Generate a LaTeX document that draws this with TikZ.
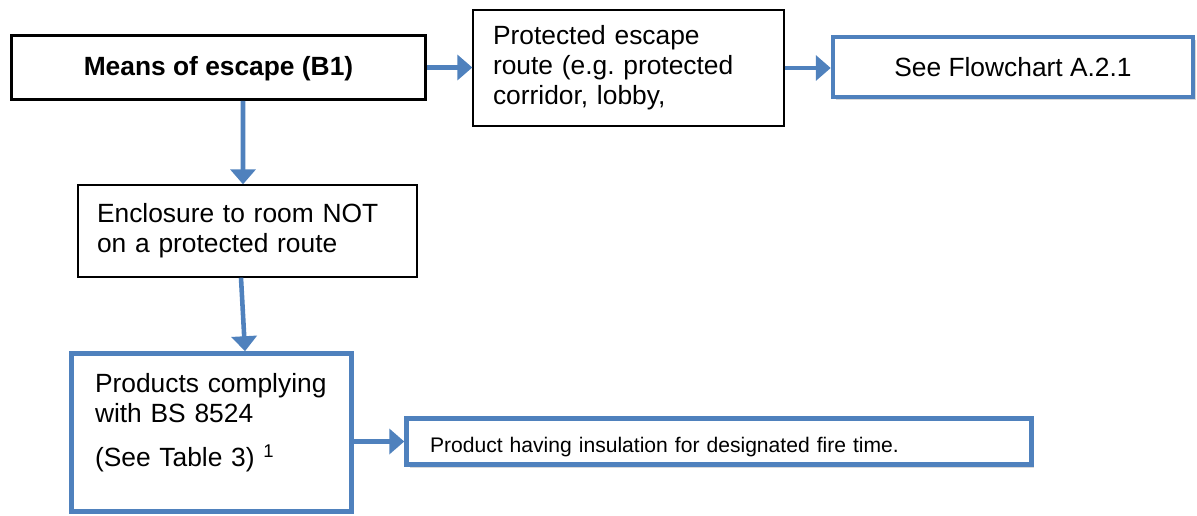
\documentclass[tikz,border=0pt]{standalone}
\usepackage{fontspec}
\setmainfont{Liberation Sans}
\usepackage{tikz}
\usetikzlibrary{calc}
\usetikzlibrary{arrows.meta}
\usetikzlibrary{shadows}
\definecolor{flowblue}{RGB}{79,129,189}
\tikzset{
    plainbox/.style={draw=black,line width=#1,fill=white,inner sep=0pt,font=\fontsize{15}{17}\selectfont},
    bluebox/.style={draw=flowblue,line width=2.6pt,fill=white,inner sep=0pt,font=\fontsize{15}{17}\selectfont,
        drop shadow={opacity=0.3,shadow xshift=0.06cm,shadow yshift=-0.06cm}},
    flow/.style={draw=flowblue,line width=2.6pt,-{Triangle[length=0.3cm,width=0.5cm]}}
}

\begin{document}
\begin{tikzpicture}[x=0.02cm,y=-0.02cm]
\useasboundingbox (0,0) rectangle (1197,515);
\node (means) at (218.5,67.5)[plainbox=1.7pt,minimum width=8.28cm,minimum height=1.28cm,text height=0.45cm,text depth=0.12cm] {\bfseries Means of escape (B1)};
\node (route) at (628.5,68)[plainbox=0.8pt,minimum width=6.22cm,minimum height=2.32cm,text width=5.42cm,align=left] {Protected escape\\route (e.g.\ protected\\corridor, lobby,};
\node (chart) at (1013,67)[bluebox,minimum width=7.2cm,minimum height=1.2cm] {See Flowchart A.2.1};
\node (encl) at (247.5,231)[plainbox=0.8pt,minimum width=6.78cm,minimum height=1.84cm,text width=6.02cm,align=left] {Enclosure to room NOT\\on a protected route};
\node (prod) at (211.5,432.5)[bluebox,minimum width=5.6cm,minimum height=3.16cm,text width=4.66cm,align=left] {Products complying\\with BS 8524\\[0.28cm](See Table 3) \textsuperscript{1}\\[-0.1cm]\mbox{}};
\node (ins) at (719,441.5)[bluebox,minimum width=12.5cm,minimum height=0.92cm,text width=11.56cm,align=left,text height=0.5cm,text depth=0.07cm,font=\fontsize{12}{14}\selectfont] {Product having insulation for designated fire time.};
\draw[flow] (means.east) -- (means.east -| route.west);
\draw[flow] (route.east) -- (route.east -| chart.west);
\draw[flow] ([xshift=0.49cm]means.south) -- ([xshift=-0.09cm]encl.north);
\draw[flow] ([xshift=-0.13cm]encl.south) -- ([xshift=0.67cm]prod.north);
\draw[flow] (prod.east |- ins.west) -- (ins.west);
\end{tikzpicture}
\end{document}
